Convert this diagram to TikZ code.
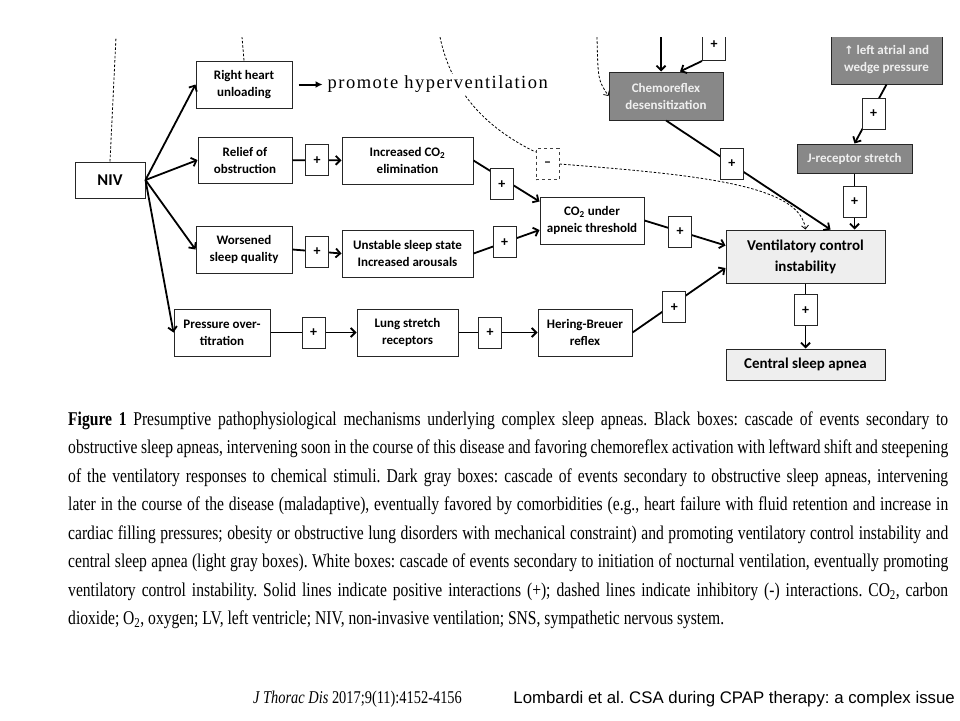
\documentclass[tikz,border=0pt]{standalone}
\usepackage{fontspec}
\usepackage{tikz}
\usetikzlibrary{arrows.meta,positioning}
\newfontfamily\boxfont{Carlito}
\newfontfamily\arrowfont{DejaVu Sans}
\newfontfamily\capfont[FakeStretch=0.8]{Liberation Serif}
\newfontfamily\hypfont[LetterSpace=8]{Liberation Serif}
\setsansfont{Liberation Sans}
\definecolor{boxdark}{RGB}{136,136,136}
\definecolor{boxlight}{RGB}{238,238,238}
\definecolor{boxtext}{RGB}{240,240,240}
\newcommand{\capline}[1]{\makebox[880pt][s]{#1}}
\frenchspacing

\begin{document}
\begin{tikzpicture}[x=1pt, y=-1pt,
    >={Straight Barb[length=4.5pt,width=9pt]},
    every node/.append style={align=center, inner sep=0pt},
    box/.style={draw=black!85, line width=1pt, fill=white,
      font=\boxfont\bfseries\fontsize{13}{17}\selectfont},
    bigbox/.style={box, fill=boxlight,
      font=\boxfont\bfseries\fontsize{15}{21}\selectfont},
    dbox/.style={box, fill=boxdark, text=boxtext},
    plus/.style={draw=black!85, line width=1pt, fill=white,
      minimum width=23pt, minimum height=31pt,
      font=\boxfont\bfseries\fontsize{14}{14}\selectfont},
    link/.style={->, line width=1.8pt},
    inhib/.style={->, line width=0.8pt, dash pattern=on 2.5pt off 1.8pt,
      >={Straight Barb[length=3.5pt,width=7pt]}}]
    \tikzstyle{captext}=[anchor=base west, font=\capfont\fontsize{19.5}{19.5}\selectfont]

    \useasboundingbox (0,0) rectangle (960,720);
    \begin{scope}
    \clip (0,37) rectangle (960,720);

    % white boxes
    \node [box, minimum width=70pt, minimum height=36pt,
      font=\boxfont\bfseries\fontsize{16.5}{16.5}\selectfont] (niv) at (110,180) {NIV};
    \node [box, minimum width=96pt, minimum height=47pt] (rhu) at (244,84.5) {Right heart\\unloading};
    \node [box, minimum width=94pt, minimum height=46pt] (rel) at (245,160) {Relief of\\obstruction};
    \node [box, minimum width=96pt, minimum height=47pt] (wsq) at (244,249.5) {Worsened\\sleep quality};
    \node [box, minimum width=96pt, minimum height=47pt] (pot) at (222,332.5) {Pressure over-\\titration};
    \node [box, minimum width=131pt, minimum height=47pt] (ico) at (407.5,160.5) {Increased CO\textsubscript{2}\\elimination};
    \node [box, minimum width=131pt, minimum height=47pt] (uss) at (407.5,253.5) {Unstable sleep state\\Increased arousals};
    \node [box, minimum width=101pt, minimum height=47pt] (lsr) at (407.5,332.5) {Lung stretch\\receptors};
    \node [box, minimum width=94pt, minimum height=47pt] (hbr) at (585,332.5) {Hering-Breuer\\reflex};
    \node [box, minimum width=104pt, minimum height=47pt] (cut) at (592,220.5) {CO\textsubscript{2} under\\apneic threshold};

    % light gray boxes
    \node [bigbox, minimum width=159pt, minimum height=53pt] (vci) at (805.5,256.5) {Ventilatory control\\instability};
    \node [bigbox, minimum width=159pt, minimum height=31pt] (csa) at (805.5,364.5) {Central sleep apnea};

    % dark gray boxes
    \node [dbox, minimum width=114pt, minimum height=48pt] (chd) at (666,96) {Chemoreflex\\desensitization};
    \node [dbox, minimum width=111pt, minimum height=48pt] (law) at (886.5,60) {{\arrowfont\fontsize{11.5}{11.5}\selectfont ↑} left atrial and\\wedge pressure};
    \node [dbox, minimum width=115pt, minimum height=29pt] (jrs) at (854.5,158.5) {J-receptor stretch};

    \node [plus, draw=black!75, dashed] (mb) at (547.5,164) {–};
    \node [plus] (p13) at (714,45) {+};

    % NIV fan
    \path[link] (niv.east) edge (rhu.west)
      (niv.east) edge (rel.west)
      (niv.east) edge (wsq.west)
      (niv.east) edge (pot.west);

    % cascades
    \path[link] (rel) edge node [plus] (p1) {+} (ico)
      (wsq.east) edge node [plus] (p2) {+} (uss.west)
      (pot) edge node [plus] (p3) {+} (lsr)
      (lsr) edge node [plus, pos=0.4] (p4) {+} (hbr)
      (ico.east) edge node [plus, pos=0.43, yshift=-6pt] (p5) {+} ([yshift=-5pt]cut.north west)
      (uss.east) edge node [plus, pos=0.47] (p6) {+} ([yshift=-9.5pt]cut.west)
      (cut.east) edge node [plus, pos=0.44] (p7) {+} ([yshift=11pt]vci.west)
      (hbr.east) edge node [plus, pos=0.45, yshift=-4pt] (p8) {+} ([yshift=-11.5pt]vci.west)
      (chd.south) edge node [plus, pos=0.4] (p9) {+} ([xshift=25pt]vci.north)
      (law.south) edge node [plus, xshift=3pt] (p10) {+} (jrs.north)
      (jrs.south) edge node [plus] (p11) {+} ([xshift=49pt]vci.north)
      (vci.south) edge node [plus, pos=0.41] (p12) {+} (csa.north);

    % incoming from above
    \coordinate (t1) at (116,37);
    \coordinate (t2) at (242,37);
    \coordinate (t3) at (440,37);
    \coordinate (t4) at (597,37);
    \coordinate (t5) at (661,37);
    \draw[link] (t5) -- ([xshift=-5pt]chd.north);
    \draw[link] (p13.south west) -- ([xshift=14pt]chd.north);

    % inhibitory (dashed)
    \draw[inhib, -] (niv.north) -- (t1);
    \draw[inhib, -] (rhu.north) -- (t2);
    \draw[inhib, -] (t3) .. controls (452,95) and (490,130) .. ([yshift=-4pt]mb.north west);
    \draw[inhib] (mb.east) .. controls (700,175) and (800,185) .. (vci.north);
    \draw[inhib] (t4) .. controls (598,80) .. (chd.west);

    \node [right=30pt of rhu, fill=white, inner xsep=5pt, inner ysep=2pt,
      font=\hypfont\fontsize{18.5}{18.5}\selectfont] (hyp) {promote hyperventilation};
    \draw[-{Latex[length=7pt,width=7pt]}, line width=2pt] ([xshift=6pt]rhu.east) -- (hyp);
    \end{scope}

    % caption
    \node [captext] (c1) at (68,425) {\capline{\textbf{Figure 1} Presumptive pathophysiological mechanisms underlying complex sleep apneas. Black boxes: cascade of events secondary to}};
    \node [captext] (c2) at (68,453.5) {\capline{obstructive sleep apneas, intervening soon in the course of this disease and favoring chemoreflex activation with leftward shift and steepening}};
    \node [captext] (c3) at (68,482) {\capline{of the ventilatory responses to chemical stimuli. Dark gray boxes: cascade of events secondary to obstructive sleep apneas, intervening}};
    \node [captext] (c4) at (68,510.5) {\capline{later in the course of the disease (maladaptive), eventually favored by comorbidities (e.g., heart failure with fluid retention and increase in}};
    \node [captext] (c5) at (68,539) {\capline{cardiac filling pressures; obesity or obstructive lung disorders with mechanical constraint) and promoting ventilatory control instability and}};
    \node [captext] (c6) at (68,567.5) {\capline{central sleep apnea (light gray boxes). White boxes: cascade of events secondary to initiation of nocturnal ventilation, eventually promoting}};
    \node [captext] (c7) at (68,596) {\capline{ventilatory control instability. Solid lines indicate positive interactions (+); dashed lines indicate inhibitory (-) interactions. CO\textsubscript{2}, carbon}};
    \node [captext] (c8) at (68,624.5) {dioxide; O\textsubscript{2}, oxygen; LV, left ventricle; NIV, non-invasive ventilation; SNS, sympathetic nervous system.};

    % footer
    \node [anchor=base west, font=\capfont\fontsize{18}{18}\selectfont] (jtd) at (253,703) {\textit{J Thorac Dis} 2017;9(11):4152-4156};
    \node [anchor=base east, font=\sffamily\fontsize{16.8}{16.8}\selectfont] (cite) at (955,703) {Lombardi et al. CSA during CPAP therapy: a complex issue};
\end{tikzpicture}
\end{document}
